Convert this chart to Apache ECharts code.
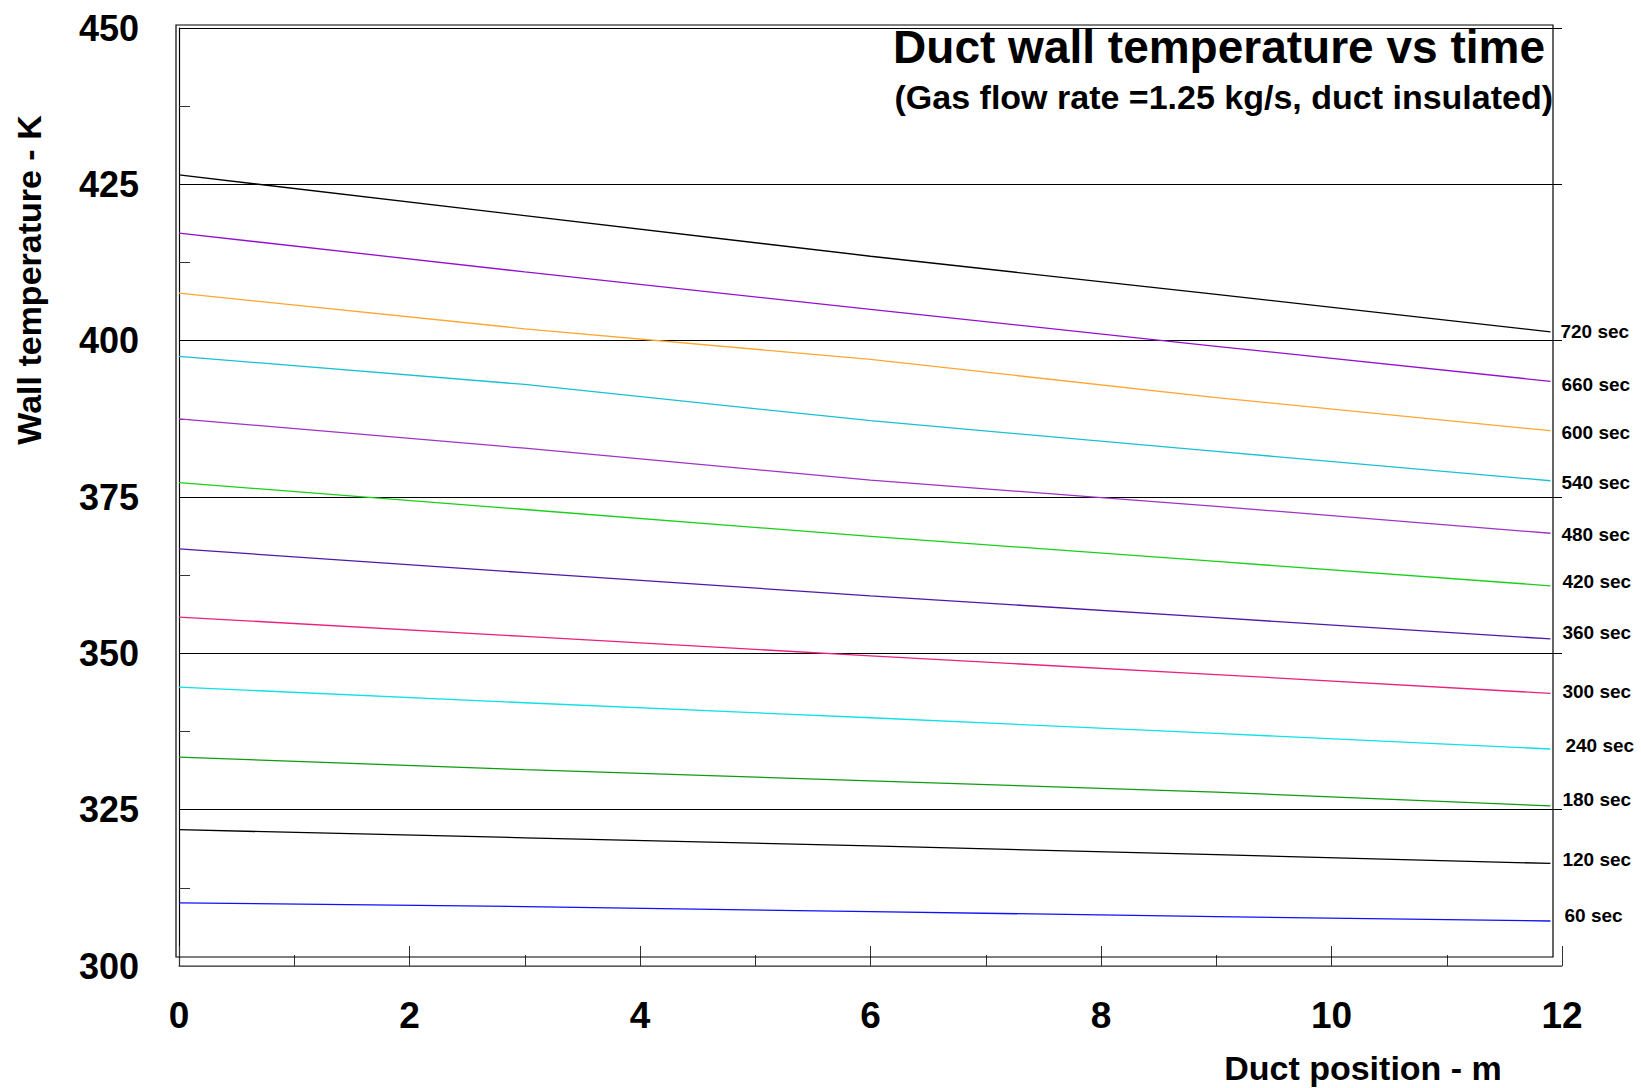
<!DOCTYPE html>
<html>
<head>
<meta charset="utf-8">
<title>Duct wall temperature vs time</title>
<script src="https://cdn.jsdelivr.net/npm/echarts@6/dist/echarts.min.js"></script>
<style>
  html, body { margin: 0; padding: 0; background: #fff; }
  #chart { width: 1641px; height: 1088px; }
</style>
</head>
<body>
<div id="chart"></div>
<script>
// duct position (m) at which the curves were read
const positions = [0, 3, 6, 9, 11.9];

// wall temperature (K) along the duct, one array per elapsed time
const t60  = [310.1, 309.5, 308.7, 307.9, 307.2];
const t120 = [321.8, 320.5, 319.2, 317.8, 316.4];
const t180 = [333.4, 331.4, 329.6, 327.8, 325.6];
const t240 = [344.6, 342.1, 339.7, 337.2, 334.7];
const t300 = [355.8, 352.7, 349.6, 346.6, 343.6];
const t360 = [366.7, 362.9, 359.2, 355.7, 352.3];
const t420 = [377.3, 373.0, 368.7, 364.7, 360.8];
const t480 = [387.5, 382.8, 377.7, 373.5, 369.2];
const t540 = [397.5, 393.0, 387.2, 382.3, 377.6];
const t600 = [407.6, 401.9, 397.0, 390.9, 385.6];
const t660 = [417.2, 411.0, 405.0, 399.1, 393.5];
const t720 = [426.5, 420.0, 413.5, 407.4, 401.4];

const curveNames = ['60 sec', '120 sec', '180 sec', '240 sec', '300 sec', '360 sec',
  '420 sec', '480 sec', '540 sec', '600 sec', '660 sec', '720 sec'];
const curveValues = [t60, t120, t180, t240, t300, t360, t420, t480, t540, t600, t660, t720];
const curveColors = ['#1010ff', '#000000', '#109c10', '#10e0e8', '#e8207e', '#4e18a8',
  '#18d018', '#a032c8', '#18c0d4', '#ffa630', '#9410d0', '#000000'];
// small nudges so the end labels sit where they do in the original
const labelOffsets = [[4, -5], [2, -4], [2, -6], [5, -4], [2, -2], [2, -6],
  [2, -4], [1, 1], [1, 2], [1, 2], [1, 3], [0, 0]];

const yTicks = { min: 300, max: 450, step: 25 };
const xTicks = { min: 0, max: 12, step: 2 };

const FONT = '"Liberation Sans", Arial, sans-serif';

const chart = echarts.init(document.getElementById('chart'), null, { renderer: 'svg' });

const series = curveNames.map((name, i) => ({
  name: name,
  type: 'line',
  data: positions.map((x, j) => [x, curveValues[i][j]]),
  showSymbol: false,
  symbol: 'none',
  lineStyle: { color: curveColors[i], width: 1.3 },
  itemStyle: { color: curveColors[i] },
  endLabel: {
    show: true,
    formatter: '{a}',
    distance: 10,
    offset: labelOffsets[i],
    color: '#000',
    fontFamily: FONT,
    fontWeight: 'bold',
    fontSize: 19
  },
  emphasis: { disabled: true },
  z: 3
}));

chart.setOption({
  animation: false,
  backgroundColor: '#fff',
  title: [
    {
      text: 'Duct wall temperature vs time',
      right: 96,
      top: 24,
      padding: 0,
      textStyle: { fontFamily: FONT, fontWeight: 'bold', fontSize: 46, color: '#000' }
    },
    {
      text: '(Gas flow rate =1.25 kg/s, duct insulated)',
      right: 88,
      top: 80,
      padding: 0,
      textStyle: { fontFamily: FONT, fontWeight: 'bold', fontSize: 34, color: '#000' }
    }
  ],
  grid: { left: 179, right: 79, top: 28, bottom: 122 },
  xAxis: {
    type: 'value',
    min: xTicks.min,
    max: xTicks.max,
    interval: xTicks.step,
    axisLine: { show: true, lineStyle: { color: '#777', width: 1.5 } },
    axisTick: { show: true, inside: true, length: 20, lineStyle: { color: '#333' } },
    minorTick: { show: true, splitNumber: 2, length: 11, lineStyle: { color: '#333' } },
    axisLabel: {
      margin: 31,
      color: '#000',
      fontFamily: FONT,
      fontWeight: 'bold',
      fontSize: 37
    },
    splitLine: { show: false }
  },
  yAxis: {
    type: 'value',
    min: yTicks.min,
    max: yTicks.max,
    interval: yTicks.step,
    axisLine: { show: true, lineStyle: { color: '#000', width: 1.2 } },
    axisTick: { show: false, inside: true },
    minorTick: { show: true, splitNumber: 2, length: 11, lineStyle: { color: '#333' } },
    axisLabel: {
      margin: 40,
      color: '#000',
      fontFamily: FONT,
      fontWeight: 'bold',
      fontSize: 36
    },
    splitLine: { show: true, lineStyle: { color: '#000', width: 1.2 } }
  },
  graphic: [
    // the inner black box of the original plot frame
    {
      type: 'rect',
      shape: { x: 176, y: 25, width: 1377, height: 932 },
      style: { fill: 'none', stroke: '#000', lineWidth: 1.2 },
      silent: true,
      z: 1
    },
    {
      type: 'text',
      x: 29,
      y: 280,
      rotation: Math.PI / 2,
      style: {
        text: 'Wall temperature - K',
        fill: '#000',
        font: 'bold 34px ' + FONT,
        align: 'center',
        verticalAlign: 'middle'
      }
    },
    {
      type: 'text',
      x: 1363,
      y: 1068,
      style: {
        text: 'Duct position - m',
        fill: '#000',
        font: 'bold 34px ' + FONT,
        align: 'center',
        verticalAlign: 'middle'
      }
    }
  ],
  series: series
});
</script>
</body>
</html>
